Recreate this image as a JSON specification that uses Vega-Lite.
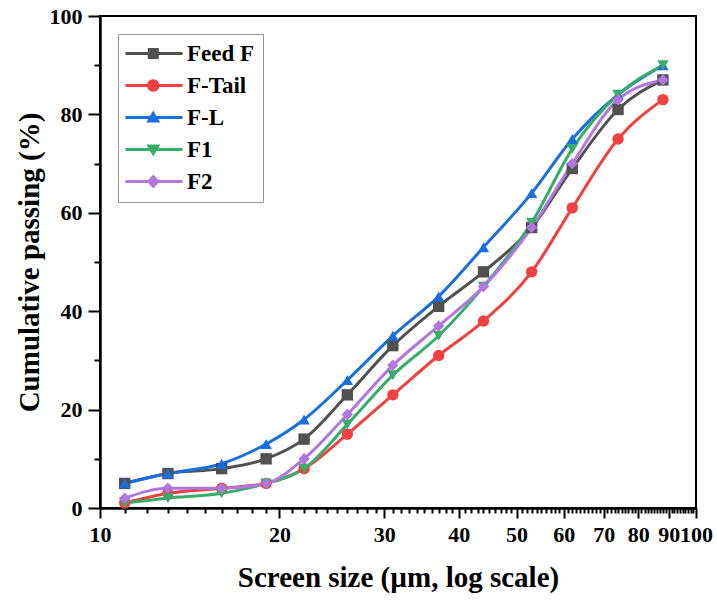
{
  "$schema": "https://vega.github.io/schema/vega-lite/v6.json",
  "width": 596,
  "height": 492,
  "autosize": {"type": "none"},
  "padding": {"left": 100, "top": 16, "right": 21, "bottom": 95},
  "background": "white",
  "config": {
    "view": {"stroke": "black", "strokeWidth": 2},
    "font": "Liberation Serif",
    "axis": {
      "grid": false,
      "ticks": true,
      "domainColor": "black",
      "domainWidth": 2,
      "tickColor": "black",
      "tickWidth": 2,
      "labelFont": "Liberation Serif",
      "labelFontWeight": "bold",
      "labelFontSize": 22,
      "labelColor": "black",
      "titleFont": "Liberation Serif",
      "titleFontWeight": "bold",
      "titleFontSize": 29,
      "titleColor": "black"
    }
  },
  "data": {
    "values": [
      {"series": "Feed F", "size": 11, "pass": 5},
      {"series": "Feed F", "size": 13, "pass": 7},
      {"series": "Feed F", "size": 16, "pass": 8},
      {"series": "Feed F", "size": 19, "pass": 10},
      {"series": "Feed F", "size": 22, "pass": 14},
      {"series": "Feed F", "size": 26, "pass": 23},
      {"series": "Feed F", "size": 31, "pass": 33},
      {"series": "Feed F", "size": 37, "pass": 41},
      {"series": "Feed F", "size": 44, "pass": 48},
      {"series": "Feed F", "size": 53, "pass": 57},
      {"series": "Feed F", "size": 62, "pass": 69},
      {"series": "Feed F", "size": 74, "pass": 81},
      {"series": "Feed F", "size": 88, "pass": 87},
      {"series": "F-Tail", "size": 11, "pass": 1},
      {"series": "F-Tail", "size": 13, "pass": 3},
      {"series": "F-Tail", "size": 16, "pass": 4},
      {"series": "F-Tail", "size": 19, "pass": 5},
      {"series": "F-Tail", "size": 22, "pass": 8},
      {"series": "F-Tail", "size": 26, "pass": 15},
      {"series": "F-Tail", "size": 31, "pass": 23},
      {"series": "F-Tail", "size": 37, "pass": 31},
      {"series": "F-Tail", "size": 44, "pass": 38},
      {"series": "F-Tail", "size": 53, "pass": 48},
      {"series": "F-Tail", "size": 62, "pass": 61},
      {"series": "F-Tail", "size": 74, "pass": 75},
      {"series": "F-Tail", "size": 88, "pass": 83},
      {"series": "F-L", "size": 11, "pass": 5},
      {"series": "F-L", "size": 13, "pass": 7},
      {"series": "F-L", "size": 16, "pass": 9},
      {"series": "F-L", "size": 19, "pass": 13},
      {"series": "F-L", "size": 22, "pass": 18},
      {"series": "F-L", "size": 26, "pass": 26},
      {"series": "F-L", "size": 31, "pass": 35},
      {"series": "F-L", "size": 37, "pass": 43},
      {"series": "F-L", "size": 44, "pass": 53},
      {"series": "F-L", "size": 53, "pass": 64},
      {"series": "F-L", "size": 62, "pass": 75},
      {"series": "F-L", "size": 74, "pass": 84},
      {"series": "F-L", "size": 88, "pass": 90},
      {"series": "F1", "size": 11, "pass": 1},
      {"series": "F1", "size": 13, "pass": 2},
      {"series": "F1", "size": 16, "pass": 3},
      {"series": "F1", "size": 19, "pass": 5},
      {"series": "F1", "size": 22, "pass": 8},
      {"series": "F1", "size": 26, "pass": 17},
      {"series": "F1", "size": 31, "pass": 27},
      {"series": "F1", "size": 37, "pass": 35},
      {"series": "F1", "size": 44, "pass": 45},
      {"series": "F1", "size": 53, "pass": 58},
      {"series": "F1", "size": 62, "pass": 73},
      {"series": "F1", "size": 74, "pass": 84},
      {"series": "F1", "size": 88, "pass": 90},
      {"series": "F2", "size": 11, "pass": 2},
      {"series": "F2", "size": 13, "pass": 4},
      {"series": "F2", "size": 16, "pass": 4},
      {"series": "F2", "size": 19, "pass": 5},
      {"series": "F2", "size": 22, "pass": 10},
      {"series": "F2", "size": 26, "pass": 19},
      {"series": "F2", "size": 31, "pass": 29},
      {"series": "F2", "size": 37, "pass": 37},
      {"series": "F2", "size": 44, "pass": 45},
      {"series": "F2", "size": 53, "pass": 57},
      {"series": "F2", "size": 62, "pass": 70},
      {"series": "F2", "size": 74, "pass": 83},
      {"series": "F2", "size": 88, "pass": 87}
    ]
  },
  "layer": [
    {
      "mark": {"type": "line", "strokeWidth": 3, "interpolate": "monotone"},
      "encoding": {
        "x": {
          "field": "size",
          "type": "quantitative",
          "scale": {"type": "log", "domain": [10, 100], "nice": false},
          "axis": {
            "orient": "bottom",
            "title": "Screen size (µm, log scale)",
            "values": [10, 20, 30, 40, 50, 60, 70, 80, 90, 100],
            "format": "d",
            "labelOverlap": false,
            "labelFlush": false,
            "tickSize": 10,
            "labelPadding": 6,
            "titlePadding": 18
          }
        },
        "y": {
          "field": "pass",
          "type": "quantitative",
          "scale": {"domain": [0, 100], "nice": false},
          "axis": {
            "orient": "left",
            "title": "Cumulative passing (%)",
            "values": [0, 20, 40, 60, 80, 100],
            "tickSize": 12,
            "labelPadding": 6,
            "titlePadding": 5
          }
        },
        "color": {
          "field": "series",
          "type": "nominal",
          "scale": {"domain": ["Feed F","F-Tail","F-L","F1","F2"], "range": ["#515151","#F14040","#1A6FDF","#37AD6B","#B177DE"]},
          "legend": null
        }
      }
    },
    {
      "mark": {"type": "point", "filled": true, "size": 130, "opacity": 1},
      "encoding": {
        "x": {
          "field": "size",
          "type": "quantitative",
          "scale": {"type": "log", "domain": [10, 100], "nice": false},
          "axis": {
            "orient": "bottom",
            "title": null,
            "labels": false,
            "values": [11,12,13,14,15,16,17,18,19,21,22,23,24,25,26,27,28,29,31,32,33,34,35,36,37,38,39,41,42,43,44,45,46,47,48,49,51,52,53,54,55,56,57,58,59,61,62,63,64,65,66,67,68,69,71,72,73,74,75,76,77,78,79,81,82,83,84,85,86,87,88,89,91,92,93,94,95,96,97,98,99],
            "tickSize": 5
          }
        },
        "y": {
          "field": "pass",
          "type": "quantitative",
          "scale": {"domain": [0, 100], "nice": false},
          "axis": {
            "orient": "left",
            "title": null,
            "labels": false,
            "values": [10, 30, 50, 70, 90],
            "tickSize": 6
          }
        },
        "color": {
          "field": "series",
          "type": "nominal",
          "scale": {"domain": ["Feed F","F-Tail","F-L","F1","F2"], "range": ["#515151","#F14040","#1A6FDF","#37AD6B","#B177DE"]},
          "legend": null
        },
        "shape": {
          "field": "series",
          "type": "nominal",
          "scale": {"domain": ["Feed F","F-Tail","F-L","F1","F2"], "range": ["square","circle","triangle-up","triangle-down","diamond"]},
          "legend": null
        }
      }
    },
    {
      "transform": [{"filter": "false"}],
      "mark": {"type": "point", "filled": true, "size": 100, "opacity": 1},
      "encoding": {
        "fill": {
          "field": "series",
          "type": "nominal",
          "scale": {"domain": ["Feed F","F-Tail","F-L","F1","F2"], "range": ["#515151","#F14040","#1A6FDF","#37AD6B","#B177DE"]},
          "legend": {
            "title": null,
            "orient": "top-left",
            "offset": 18,
            "padding": 8,
            "strokeColor": "#999999",
            "fillColor": "white",
            "labelFont": "Liberation Serif",
            "labelFontWeight": "bold",
            "labelFontSize": 23,
            "labelColor": "black",
            "labelOffset": 38,
            "rowPadding": 8,
            "symbolSize": 100,
            "symbolStrokeWidth": 0,
            "symbolOpacity": 1
          }
        },
        "shape": {
          "field": "series",
          "type": "nominal",
          "scale": {
            "domain": ["Feed F","F-Tail","F-L","F1","F2"],
            "range": [
              "M-2.4,-0.3L9.0,-0.3L9.0,0.3L-2.4,0.3Z M2.05,-1.1L4.25,-1.1L4.25,1.1L2.05,1.1Z",
              "M-2.4,-0.3L9.0,-0.3L9.0,0.3L-2.4,0.3Z M1.9,0A1.25,1.25,0,1,1,4.4,0A1.25,1.25,0,1,1,1.9,0Z",
              "M-2.4,-0.3L9.0,-0.3L9.0,0.3L-2.4,0.3Z M3.15,-1.4L4.55,1.0L1.75,1.0Z",
              "M-2.4,-0.3L9.0,-0.3L9.0,0.3L-2.4,0.3Z M3.15,1.4L1.75,-1.0L4.55,-1.0Z",
              "M-2.4,-0.3L9.0,-0.3L9.0,0.3L-2.4,0.3Z M3.15,-1.4L4.45,0L3.15,1.4L1.85,0Z"
            ]
          },
          "legend": {
            "title": null,
            "orient": "top-left",
            "offset": 18,
            "padding": 8,
            "strokeColor": "#999999",
            "fillColor": "white",
            "labelFont": "Liberation Serif",
            "labelFontWeight": "bold",
            "labelFontSize": 23,
            "labelColor": "black",
            "labelOffset": 38,
            "rowPadding": 8,
            "symbolSize": 100,
            "symbolStrokeWidth": 0,
            "symbolOpacity": 1
          }
        }
      }
    }
  ],
  "resolve": {
    "scale": {"shape": "independent", "fill": "independent"},
    "axis": {"x": "independent", "y": "independent"},
    "legend": {"shape": "independent", "fill": "independent"}
  }
}
